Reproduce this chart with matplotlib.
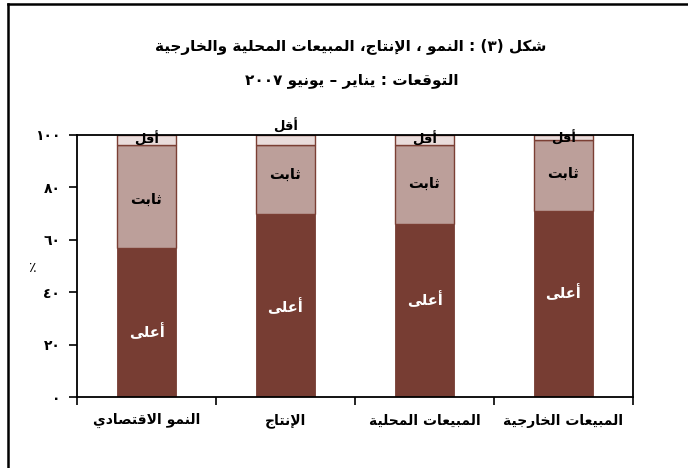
import re
import matplotlib
matplotlib.use('Agg')
import matplotlib.pyplot as plt
from matplotlib.lines import Line2D
import numpy as np

# categories, left to right
categories = ['النمو الاقتصادي', 'الإنتاج', 'المبيعات المحلية', 'المبيعات الخارجية']
series_names = ['أعلى', 'ثابت', 'أقل']
higher = [57, 70, 66, 71]
stable = [39, 26, 30, 27]
lower = [4, 4, 4, 2]
yticks = [0, 20, 40, 60, 80, 100]
ytick_labels = ['٠', '٢٠', '٤٠', '٦٠', '٨٠', '١٠٠']
title_1 = 'شكل (٣) : النمو ، الإنتاج، المبيعات المحلية والخارجية'
title_2 = 'التوقعات : يناير – يونيو ٢٠٠٧'

# where the segment names sit inside each bar (in %)
higher_label_y = [25, 34.5, 37, 40]
stable_label_y = [75.5, 85, 81.5, 85.5]
lower_label_y = [98.3, 103.4, 98.3, 99]

# --- minimal arabic shaping (matplotlib has no text shaping / bidi) ---
DUAL = {'ب': 0xFE8F, 'ت': 0xFE95, 'ث': 0xFE99, 'ج': 0xFE9D, 'ح': 0xFEA1,
        'خ': 0xFEA5, 'س': 0xFEB1, 'ش': 0xFEB5, 'ص': 0xFEB9, 'ط': 0xFEC1,
        'ع': 0xFEC9, 'ف': 0xFED1, 'ق': 0xFED5, 'ك': 0xFED9, 'ل': 0xFEDD,
        'م': 0xFEE1, 'ن': 0xFEE5, 'ه': 0xFEE9, 'ي': 0xFEF1}
RIGHT = {'ا': (0xFE8D, 0xFE8E), 'أ': (0xFE83, 0xFE84), 'إ': (0xFE87, 0xFE88),
         'د': (0xFEA9, 0xFEAA), 'ر': (0xFEAD, 0xFEAE), 'و': (0xFEED, 0xFEEE),
         'ة': (0xFE93, 0xFE94), 'ى': (0xFEEF, 0xFEF0)}
LAM_ALEF = {'ا': (0xFEFB, 0xFEFC), 'أ': (0xFEF7, 0xFEF8), 'إ': (0xFEF9, 0xFEFA)}


def shape(text):
    toks = []
    i = 0
    while i < len(text):
        c = text[i]
        if c == 'ل' and i + 1 < len(text) and text[i + 1] in LAM_ALEF:
            toks.append(('LA', text[i + 1]))
            i += 2
        else:
            toks.append(c)
            i += 1

    def is_ar(t):
        return isinstance(t, tuple) or t in DUAL or t in RIGHT

    out = []
    for k, t in enumerate(toks):
        prev_j = k > 0 and toks[k - 1] in DUAL and is_ar(t)
        next_j = (not isinstance(t, tuple)) and t in DUAL and k + 1 < len(toks) and is_ar(toks[k + 1])
        if isinstance(t, tuple):
            iso, fin = LAM_ALEF[t[1]]
            out.append(chr(fin if prev_j else iso))
        elif t in DUAL:
            b = DUAL[t]
            if prev_j and next_j:
                out.append(chr(b + 3))
            elif next_j:
                out.append(chr(b + 2))
            elif prev_j:
                out.append(chr(b + 1))
            else:
                out.append(chr(b))
        elif t in RIGHT:
            iso, fin = RIGHT[t]
            out.append(chr(fin if prev_j else iso))
        else:
            out.append(t)
    return ''.join(out)


def ar(text):
    runs = re.findall(r'[0-9\u0660-\u0669]+|[^0-9\u0660-\u0669]', shape(text))
    mirror = {'(': ')', ')': '('}
    return ''.join(mirror.get(r, r) for r in reversed(runs))


plt.rcParams['font.family'] = ['DejaVu Sans']

W, H = 688, 468
fig = plt.figure(figsize=(W / 100, H / 100), dpi=100)
ax = fig.add_axes([77 / W, 1 - 397 / H, (633 - 77) / W, (397 - 135) / H])

dark = '#773d33'
mid = '#bc9f9a'
light = '#e9dcdb'
edge = '#7b3f34'

x = np.arange(len(categories)) + 0.5
w = 0.43
higher_a = np.array(higher)
stable_a = np.array(stable)
lower_a = np.array(lower)
ax.bar(x, higher_a, w, color=dark, edgecolor=dark, linewidth=0.6, zorder=2)
ax.bar(x, stable_a, w, bottom=higher_a, color=mid, edgecolor=edge, linewidth=1.0, zorder=2)
ax.bar(x, lower_a, w, bottom=higher_a + stable_a, color=light, edgecolor=edge, linewidth=1.0, zorder=2)

for i in range(len(categories)):
    ax.text(x[i], higher_label_y[i], ar(series_names[0]), ha='center', va='center',
            color='white', fontsize=10.5, fontweight='bold', zorder=4)
    ax.text(x[i], stable_label_y[i], ar(series_names[1]), ha='center', va='center',
            color='black', fontsize=10.5, fontweight='bold', zorder=4)
    ax.text(x[i], lower_label_y[i], ar(series_names[2]), ha='center', va='center',
            color='black', fontsize=9.5, fontweight='bold', zorder=4, clip_on=False)

ax.set_xlim(0, 4)
ax.set_ylim(0, 100)
ax.set_xticks([0, 1, 2, 3, 4])
ax.set_xticklabels([])
ax.set_yticks(yticks)
ax.set_yticklabels(ytick_labels, fontweight='bold', fontsize=10)
ax.tick_params(axis='x', direction='out', length=6, width=1.2)
ax.tick_params(axis='y', direction='out', length=6, width=1.2, pad=6)
for s in ax.spines.values():
    s.set_linewidth(1.3)

for i, c in enumerate(categories):
    ax.text(x[i], -9, ar(c), ha='center', va='center', fontsize=10,
            fontweight='bold', transform=ax.transData, clip_on=False)

fig.text(32 / W, 1 - 268 / H, '٪', ha='center', va='center', fontsize=10)
fig.text(351 / W, 1 - 47 / H, ar(title_1), ha='center', va='center',
         fontsize=11, fontweight='bold')
fig.text(352 / W, 1 - 80 / H, ar(title_2), ha='center', va='center',
         fontsize=11, fontweight='bold')

# frame around the figure
fig.add_artist(Line2D([8 / W, 1], [1 - 4 / H, 1 - 4 / H], color='black', lw=1.8,
                      transform=fig.transFigure))
fig.add_artist(Line2D([8 / W, 8 / W], [0, 1 - 4 / H], color='black', lw=1.8,
                      transform=fig.transFigure))

fig.savefig('out.png', dpi=100)
